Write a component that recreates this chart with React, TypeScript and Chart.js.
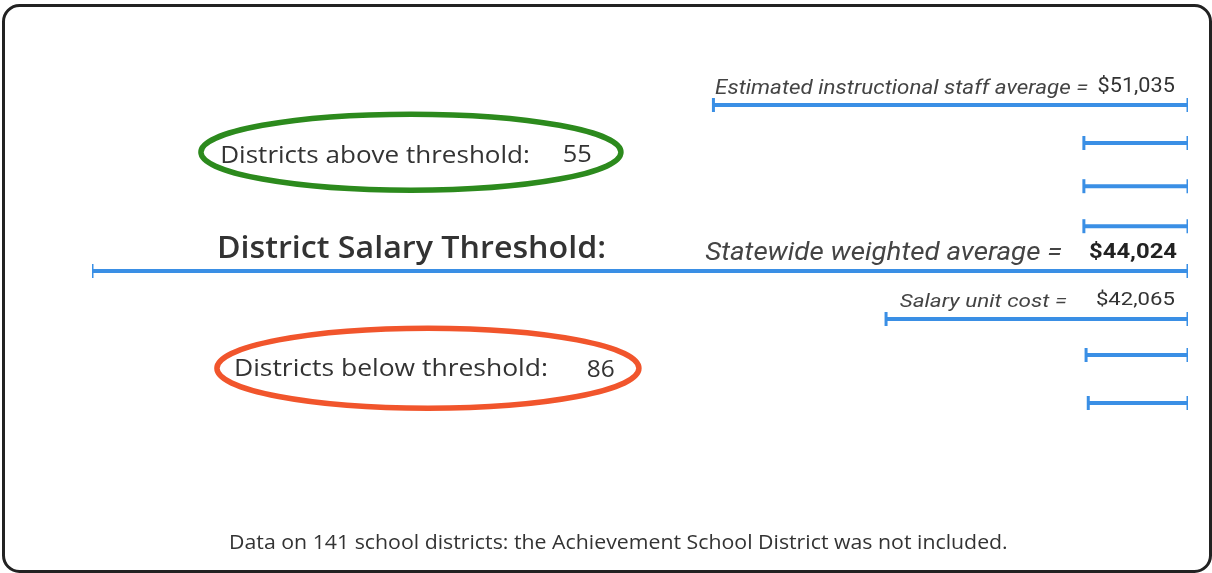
import React, { useEffect, useRef } from "react";
import { Chart, registerables } from "chart.js";

Chart.register(...registerables);

// Row levels (vertical position of each bracket, in row units)
const rowLevels = [1, 1.95, 3.03, 4.03, 5.15, 6.35, 7.25, 8.45];
// Bracket start / end on an abstract salary scale (0 – 100)
const barStarts = [56.7, 90.5, 90.5, 90.5, 0, 72.45, 90.7, 90.9];
const barEnds = [100, 100, 100, 100, 100, 100, 100, 100];

const staffLabel = "Estimated instructional staff average =";
const staffValue = "$51,035";
const thresholdTitle = "District Salary Threshold:";
const statewideLabel = "Statewide weighted average =";
const statewideValue = "$44,024";
const unitCostLabel = "Salary unit cost =";
const unitCostValue = "$42,065";
const aboveLabel = "Districts above threshold:";
const aboveCount = "55";
const belowLabel = "Districts below threshold:";
const belowCount = "86";
const footnote = "Data on 141 school districts: the Achievement School District was not included.";

const BLUE = "#3a8fe5";

function fitText(ctx: any, text: string, x0: number, x1: number, y: number, font: string, color: string) {
  ctx.font = font;
  ctx.fillStyle = color;
  ctx.textAlign = "left";
  const w = ctx.measureText(text).width;
  const s = (x1 - x0) / w;
  ctx.save();
  ctx.translate(x0, y);
  ctx.scale(s, 1);
  ctx.fillText(text, 0, 0);
  ctx.restore();
}

const annotationPlugin = {
  id: "annotations",
  afterDraw(chart: any) {
    const { ctx, scales, width, height } = chart;
    const xs = scales.x;
    const ys = scales.y;
    const px = (v: number) => xs.getPixelForValue(v);
    const py = (v: number) => ys.getPixelForValue(v);
    ctx.save();

    // border
    ctx.strokeStyle = "#222";
    ctx.lineWidth = 3;
    ctx.beginPath();
    (ctx as any).roundRect(3.5, 5.5, width - 5, height - 7, 16);
    ctx.stroke();

    ctx.textBaseline = "middle";

    // staff average label
    fitText(ctx, staffLabel, px(56.85), px(90.9), py(0.6), "italic 21px Roboto", "#444");
    fitText(ctx, staffValue, px(91.75), px(98.8), py(0.55), "21px Roboto", "#333");

    // above threshold
    fitText(ctx, aboveLabel, px(11.7), px(39.95), py(2.27), "24px 'Open Sans'", "#333");
    fitText(ctx, aboveCount, px(42.95), px(45.6), py(2.25), "24px 'Open Sans'", "#333");
    ctx.strokeStyle = "#2c8a1d";
    ctx.lineWidth = 5.5;
    ctx.beginPath();
    ctx.ellipse(px(29.1), py(2.18), 210, 38, 0, 0, Math.PI * 2);
    ctx.stroke();

    // threshold title
    fitText(ctx, thresholdTitle, px(11.4), px(46.9), py(4.6), "600 30px 'Open Sans'", "#333");

    // statewide average
    fitText(ctx, statewideLabel, px(55.95), px(88.5), py(4.72), "italic 25px Roboto", "#444");
    fitText(ctx, statewideValue, px(90.97), px(99.0), py(4.7), "bold 21px Roboto", "#222");

    // unit cost
    fitText(ctx, unitCostLabel, px(73.7), px(88.95), py(5.92), "italic 19px Roboto", "#444");
    fitText(ctx, unitCostValue, px(91.6), px(98.8), py(5.87), "19px Roboto", "#333");

    // below threshold
    fitText(ctx, belowLabel, px(12.95), px(41.6), py(7.6), "24px 'Open Sans'", "#333");
    fitText(ctx, belowCount, px(45.15), px(47.7), py(7.62), "24px 'Open Sans'", "#333");
    ctx.strokeStyle = "#f1552c";
    ctx.lineWidth = 5.5;
    ctx.beginPath();
    ctx.ellipse(px(30.65), py(7.58), 211, 40, 0, 0, Math.PI * 2);
    ctx.stroke();

    // footnote
    fitText(ctx, footnote, px(12.5), px(83.55), py(11.95), "20px 'Open Sans'", "#333");

    ctx.restore();
  },
};

export default function App() {
  const ref = useRef<HTMLCanvasElement | null>(null);
  useEffect(() => {
    if (!ref.current) return;
    const datasets = rowLevels.map((y, i) => ({
      data: [
        { x: barStarts[i], y },
        { x: barEnds[i], y },
      ],
      showLine: true,
      borderColor: BLUE,
      borderWidth: 4,
      pointStyle: "line",
      rotation: 90,
      pointRadius: 7,
      pointBorderWidth: 3,
      pointBorderColor: BLUE,
      pointBackgroundColor: BLUE,
      pointHoverRadius: 7,
    }));
    const chart = new Chart(ref.current, {
      type: "scatter",
      data: { datasets: datasets as any },
      options: {
        animation: false,
        responsive: false,
        layout: { padding: { left: 92, right: 24, top: 65, bottom: 28 } },
        plugins: { legend: { display: false }, tooltip: { enabled: false } },
        scales: {
          x: { type: "linear", display: false, min: 0, max: 100 },
          y: { type: "linear", display: false, min: 0, max: 12, reverse: true },
        },
      },
      plugins: [annotationPlugin],
    });
    return () => chart.destroy();
  }, []);
  return (
    <div style={{ position: "fixed", left: 0, top: 0, width: 1212, height: 573, background: "#fff" }}>
      <canvas ref={ref} width={1212} height={573} style={{ display: "block" }} />
    </div>
  );
}
